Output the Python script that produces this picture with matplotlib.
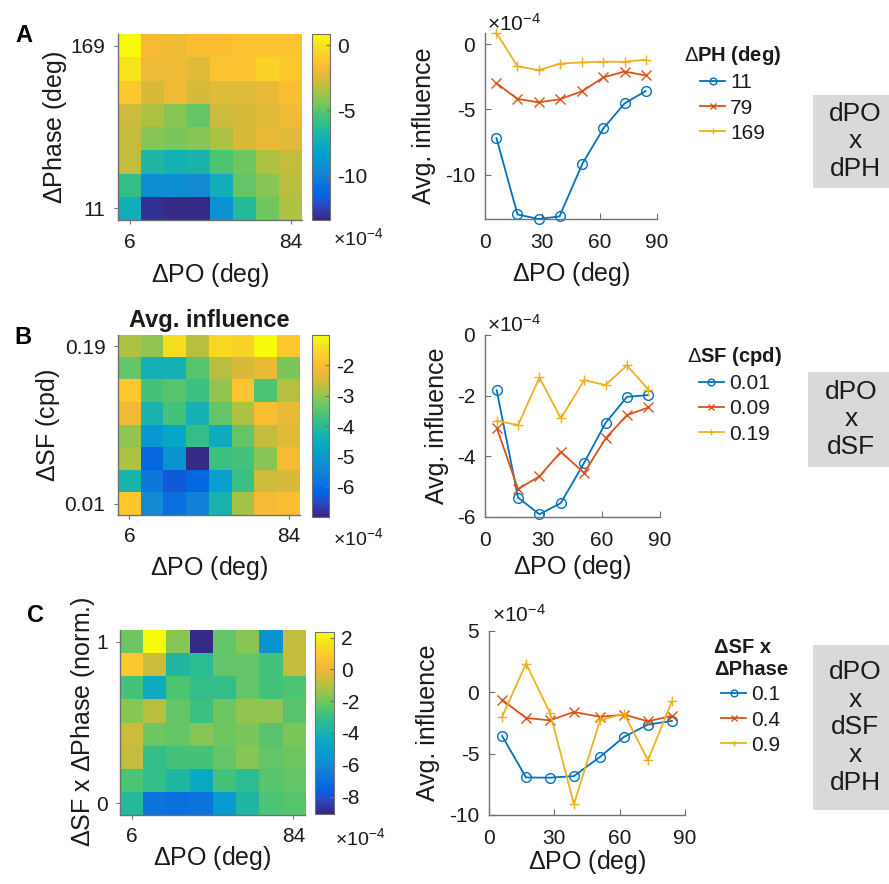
import numpy as np
import matplotlib
matplotlib.use('Agg')
import matplotlib.pyplot as plt
from matplotlib.colors import LinearSegmentedColormap
from matplotlib.patches import Rectangle

plt.rcParams['font.family'] = ['Liberation Sans', 'DejaVu Sans']
plt.rcParams['axes.unicode_minus'] = False
plt.rcParams['mathtext.fontset'] = 'custom'
plt.rcParams['mathtext.rm'] = 'Liberation Sans'
plt.rcParams['mathtext.it'] = 'Liberation Sans:italic'
plt.rcParams['mathtext.bf'] = 'Liberation Sans:bold'

# ---------------- data (units of 1e-4) ----------------
po = [6, 17, 28, 39, 51, 62, 73, 84]          # delta PO (deg), heatmap columns / line x
ph_rows = [11, 34, 56, 79, 101, 124, 146, 169]  # delta phase rows (bottom -> top)
sf_rows = [0.01, 0.036, 0.061, 0.087, 0.113, 0.139, 0.164, 0.19]
sfph_rows = [0, 0.14, 0.29, 0.43, 0.57, 0.71, 0.86, 1]

# Panel A heatmap, rows bottom (11 deg) -> top (169 deg)
heat_A = [
    [-7.2, -13.05, -13.4, -13.2, -9.15, -6.45, -4.55, -3.6],
    [-6.0, -9.2, -9.2, -9.6, -7.3, -4.8, -4.2, -3.2],
    [-3.0, -6.6, -7.0, -6.8, -5.3, -4.5, -3.5, -3.0],
    [-3.0, -4.2, -4.46, -4.23, -3.6, -2.55, -2.1, -2.4],
    [-2.9, -3.6, -4.2, -4.8, -2.9, -2.7, -2.3, -1.9],
    [-1.0, -2.6, -2.0, -2.6, -2.4, -2.4, -2.1, -1.4],
    [0.1, -2.0, -2.0, -2.4, -1.2, -1.2, -0.6, -1.0],
    [0.85, -1.7, -2.0, -1.5, -1.4, -1.35, -1.35, -1.2],
]
# Panel B heatmap, rows bottom (0.01 cpd) -> top (0.19 cpd)
heat_B = [
    [-1.82, -5.36, -5.91, -5.54, -4.21, -2.9, -2.04, -1.98],
    [-4.25, -5.7, -6.3, -6.1, -4.9, -3.75, -2.55, -2.5],
    [-2.8, -6.1, -5.2, -7.0, -3.75, -3.65, -3.1, -2.1],
    [-3.05, -5.08, -4.66, -3.85, -4.55, -3.41, -2.64, -2.39],
    [-2.2, -4.2, -3.65, -4.3, -3.4, -2.8, -2.0, -2.3],
    [-1.8, -3.7, -3.5, -3.8, -3.0, -1.85, -3.6, -2.7],
    [-3.4, -4.3, -4.3, -3.5, -2.7, -2.45, -2.25, -3.2],
    [-2.83, -2.97, -1.4, -2.75, -1.49, -1.65, -1.0, -1.8],
]
# Panel C heatmap, rows bottom (0) -> top (1)
heat_C = [
    [-3.55, -6.94, -6.96, -6.83, -5.26, -3.63, -2.63, -2.33],
    [-2.5, -3.1, -3.7, -4.5, -2.8, -3.3, -2.4, -2.3],
    [-0.7, -3.1, -2.8, -2.8, -2.3, -1.7, -2.3, -2.1],
    [-0.6, -2.09, -2.28, -1.6, -2.0, -1.82, -2.36, -1.92],
    [-1.6, -1.0, -2.2, -2.9, -2.1, -1.5, -1.5, -2.4],
    [-2.8, -4.3, -2.5, -3.1, -3.1, -2.2, -2.7, -2.6],
    [0.8, -0.6, -3.7, -3.35, -2.2, -2.2, -2.8, -0.7],
    [-2.0, 2.35, -1.68, -9.1, -2.28, -1.73, -5.53, -0.73],
]
# rows shown as line plots (row index) and their legend labels
rows_A, labels_A = [0, 3, 7], ['11', '79', '169']
rows_B, labels_B = [0, 3, 7], ['0.01', '0.09', '0.19']
rows_C, labels_C = [0, 3, 7], ['0.1', '0.4', '0.9']

# ---------------- style ----------------
parula_anchors = [
    (0 / 63, (0.2081, 0.1663, 0.5292)), (5 / 63, (0.1707, 0.2919, 0.7792)),
    (8 / 63, (0.0117, 0.3875, 0.8820)), (12 / 63, (0.0498, 0.4586, 0.8641)),
    (16 / 63, (0.0793, 0.5200, 0.8312)), (20 / 63, (0.0343, 0.5966, 0.8199)),
    (24 / 63, (0.0228, 0.6535, 0.7768)), (28 / 63, (0.0843, 0.6928, 0.7062)),
    (32 / 63, (0.17, 0.74, 0.57)), (36 / 63, (0.30, 0.77, 0.45)),
    (40 / 63, (0.48, 0.78, 0.36)), (44 / 63, (0.68, 0.76, 0.26)),
    (48 / 63, (0.85, 0.73, 0.23)), (52 / 63, (0.97, 0.73, 0.21)),
    (54 / 63, (0.9990, 0.7653, 0.1950)), (56 / 63, (0.9880, 0.8066, 0.1700)),
    (60 / 63, (0.9589, 0.8949, 0.1100)), (63 / 63, (0.9763, 0.9831, 0.0538)),
]
parula = LinearSegmentedColormap.from_list('parula', parula_anchors, N=64)
line_colors = ['#0072BD', '#D95319', '#EDB120']
markers = ['o', 'x', '+']
AX_COL = '#707070'
TXT = '#1a1a1a'
TICK_FS = 15
LAB_FS = 18
GRAY_BOX = '#d9d9d9'

W, H = 889, 884
fig = plt.figure(figsize=(W / 100, H / 100), dpi=100)


def add_ax(x0, y0, x1, y1):
    return fig.add_axes([x0 / W, 1 - y1 / H, (x1 - x0) / W, (y1 - y0) / H])


def label_at(ax, box, which, text, cx, cy):
    x0, y0, x1, y1 = box
    fx = (cx - x0) / (x1 - x0)
    fy = (y1 - cy) / (y1 - y0)
    if which == 'x':
        ax.set_xlabel(text, fontsize=LAB_FS, color=TXT)
        ax.xaxis.set_label_coords(fx, fy)
        ax.xaxis.label.set_va('center')
    else:
        ax.set_ylabel(text, fontsize=LAB_FS, color=TXT)
        ax.yaxis.set_label_coords(fx, fy)
        ax.yaxis.label.set_va('center')


def style_spines(ax):
    for s in ['top', 'right']:
        ax.spines[s].set_visible(False)
    for s in ['left', 'bottom']:
        ax.spines[s].set_color(AX_COL)
        ax.spines[s].set_linewidth(1.0)


def heatmap(box, cbox, data, ylabels, cticks, ylab, xlab_c, ylab_c, sci_xy):
    ax = add_ax(*box)
    arr = np.array(data)
    im = ax.imshow(arr, origin='lower', aspect='auto', cmap=parula,
                   interpolation='nearest', vmin=arr.min(), vmax=arr.max())
    ax.set_xticks([0, len(po) - 1])
    ax.set_xticklabels([str(po[0]), str(po[-1])])
    ax.set_yticks([0, len(ylabels) - 1])
    ax.set_yticklabels([str(ylabels[0]), str(ylabels[-1])])
    ax.tick_params(direction='out', length=3, width=0.8, color=AX_COL,
                   labelsize=TICK_FS, labelcolor=TXT)
    ax.tick_params(axis='x', pad=6)
    ax.tick_params(axis='y', pad=6)
    style_spines(ax)
    label_at(ax, box, 'x', r'$\Delta$PO (deg)', *xlab_c)
    label_at(ax, box, 'y', ylab, *ylab_c)
    cax = add_ax(*cbox)
    cb = fig.colorbar(im, cax=cax, ticks=cticks)
    cb.set_ticklabels([str(t) for t in cticks])
    cb.outline.set_edgecolor(AX_COL)
    cb.outline.set_linewidth(0.8)
    cax.tick_params(direction='in', length=3, width=0.8, color=AX_COL,
                    labelsize=TICK_FS, labelcolor=TXT, pad=5)
    fig.text(sci_xy[0] / W, 1 - sci_xy[1] / H, r'$\times\mathregular{10^{-4}}$',
             fontsize=14, color=TXT, ha='left', va='center')
    return ax


def lineplot(box, data, rows, labels, ylim, yticks, title, leg_xy, xlab_c, ylab_c, sci_xy):
    ax = add_ax(*box)
    for i, (r, lab) in enumerate(zip(rows, labels)):
        mfc = 'none' if markers[i] == 'o' else line_colors[i]
        ax.plot(po, data[r], color=line_colors[i], marker=markers[i], ms=7,
                mfc=mfc, mew=1.0, lw=1.3, label=lab, clip_on=False)
    ax.set_xlim(0, 90)
    ax.set_ylim(*ylim)
    ax.set_xticks([0, 30, 60, 90])
    ax.set_yticks(yticks)
    ax.set_yticklabels([str(t) for t in yticks])
    ax.tick_params(direction='in', length=4, width=0.8, color=AX_COL,
                   labelsize=TICK_FS, labelcolor=TXT)
    ax.tick_params(axis='x', pad=10)
    ax.tick_params(axis='y', pad=7)
    style_spines(ax)
    label_at(ax, box, 'x', r'$\Delta$PO (deg)', *xlab_c)
    label_at(ax, box, 'y', 'Avg. influence', *ylab_c)
    fig.text(sci_xy[0] / W, 1 - sci_xy[1] / H, r'$\times\mathregular{10^{-4}}$',
             fontsize=15, color=TXT, ha='left', va='center')
    leg = ax.legend(title=title, loc='upper left',
                    bbox_to_anchor=(leg_xy[0] / W, 1 - leg_xy[1] / H),
                    bbox_transform=fig.transFigure, frameon=False, fontsize=15,
                    title_fontproperties={'weight': 'bold', 'size': 14.5},
                    handlelength=1.2, handletextpad=0.25, labelspacing=0.3,
                    borderpad=0, borderaxespad=0, markerscale=0.7)
    for t in leg.get_texts():
        t.set_color(TXT)
    leg.get_title().set_color(TXT)
    return ax


def side_box(x0, y0, x1, y1, text, cx):
    fig.add_artist(Rectangle((x0 / W, 1 - y1 / H), (x1 - x0) / W, (y1 - y0) / H,
                             transform=fig.transFigure, facecolor=GRAY_BOX,
                             edgecolor='none'))
    fig.text(cx / W, 1 - (y0 + y1) / 2 / H, text, ha='center', va='center',
             fontsize=19, color=TXT, linespacing=1.2)


# ---------------- Row A ----------------
boxA = (118, 34, 302, 220)
heatmap(boxA, (312, 34, 330, 220), heat_A, ph_rows, [0, -5, -10],
        r'$\Delta$Phase (deg)', (210, 275), (55, 127), (333, 238))
lineplot((485, 33, 657, 219), heat_A, rows_A, labels_A,
         (min(min(heat_A[r]) for r in rows_A), max(max(heat_A[r]) for r in rows_A)),
         [-10, -5, 0], r'$\Delta$PH (deg)', (684, 44), (571, 274), (424, 126), (487, 24))
side_box(813, 95, 889, 188, 'dPO\nx\ndPH', 855)
fig.text(24 / W, 1 - 36 / H, 'A', fontsize=17, fontweight='bold', ha='center', va='center')

# ---------------- Row B ----------------
boxB = (118, 335, 300, 515)
axB = heatmap(boxB, (312, 335, 329, 517), heat_B, sf_rows, [-2, -3, -4, -5, -6],
              r'$\Delta$SF (cpd)', (209, 568), (48, 425), (333, 538))
axB.set_title('Avg. influence', fontsize=17, fontweight='bold', color=TXT, pad=6)
lineplot((485, 335, 660, 517), heat_B, rows_B, labels_B, (-6, 0),
         [-6, -4, -2, 0], r'$\Delta$SF (cpd)', (687, 345), (572, 567), (437, 426), (487, 325))
side_box(808, 372, 889, 467, 'dPO\nx\ndSF', 851)
fig.text(23 / W, 1 - 337 / H, 'B', fontsize=17, fontweight='bold', ha='center', va='center')

# ---------------- Row C ----------------
boxC = (120, 630, 305, 815)
heatmap(boxC, (315, 632, 334, 814), heat_C, sfph_rows, [2, 0, -2, -4, -6, -8],
        r'$\Delta$SF x $\Delta$Phase (norm.)', (212, 858), (83, 722), (335, 838))
lineplot((489, 631, 685, 815), heat_C, rows_C, labels_C, (-10, 5),
         [-10, -5, 0, 5], 'ΔSF x\nΔPhase', (714, 638), (587, 862), (428, 723), (492, 615))
side_box(813, 645, 889, 810, 'dPO\nx\ndSF\nx\ndPH', 855)
fig.text(36 / W, 1 - 615 / H, 'C', fontsize=17, fontweight='bold', ha='center', va='center')

fig.savefig('out.png', dpi=100)
